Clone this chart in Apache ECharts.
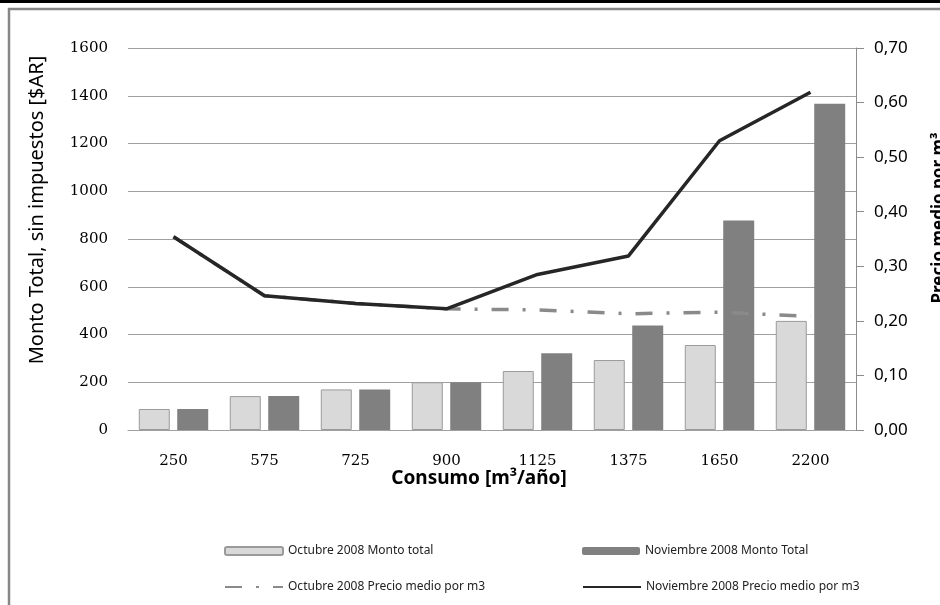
<!DOCTYPE html>
<html>
<head>
<meta charset="utf-8">
<script src="https://cdn.jsdelivr.net/npm/echarts@6/dist/echarts.min.js"></script>
<style>
html,body{margin:0;padding:0;background:#fff;}
#chart{width:940px;height:605px;}
</style>
</head>
<body>
<div id="chart"></div>
<script>
// ---- data ----
const categories = ['250', '575', '725', '900', '1125', '1375', '1650', '2200'];
const octMonto = [88, 142, 170, 200, 247, 293, 356, 457];
const novMonto = [88, 142, 170, 200, 321, 438, 877, 1367];
const octPrecio = [0.354, 0.246, 0.232, 0.222, 0.220, 0.213, 0.216, 0.208];
const novPrecio = [0.354, 0.246, 0.232, 0.222, 0.285, 0.319, 0.530, 0.619];
const seriesNames = [
  'Octubre 2008 Monto total',
  'Noviembre 2008 Monto Total',
  'Octubre 2008 Precio medio por m3',
  'Noviembre 2008 Precio medio por m3'
];
const leftTitle = 'Monto Total, sin impuestos [$AR]';
const rightTitle = 'Precio medio por m³';
const xTitle = 'Consumo [m³/año]';

const chart = echarts.init(document.getElementById('chart'), null, {renderer: 'canvas'});
const legendText = {fontFamily: 'Noto Sans', fontSize: 12, color: '#222'};
function mkLegend(name, left, top, hideSymbol) {
  const item = hideSymbol ? {name: name, itemStyle: {opacity: 0}} : {name: name};
  return {
    data: [item], left: left, top: top, padding: 0, itemWidth: 58, itemHeight: 8,
    itemGap: 6, textStyle: legendText, selectedMode: false
  };
}
const option = {
  animation: false,
  backgroundColor: '#fff',
  grid: {left: 128, right: 84, top: 48, bottom: 175, containLabel: false},
  legend: [
    mkLegend(seriesNames[0], 224, 545, false),
    mkLegend(seriesNames[1], 582, 545, false),
    mkLegend(seriesNames[2], 224, 581, true),
    mkLegend(seriesNames[3], 582, 581, true)
  ],
  xAxis: {
    type: 'category',
    data: categories,
    axisLine: {show: true, lineStyle: {color: '#a0a0a0', width: 1}},
    axisTick: {show: false},
    axisLabel: {fontFamily: 'DejaVu Serif', fontSize: 15, color: '#000', margin: 24}
  },
  yAxis: [
    {
      type: 'value', min: 0, max: 1600, interval: 200, position: 'left',
      axisLine: {show: false}, axisTick: {show: false},
      axisLabel: {
        fontFamily: 'DejaVu Serif', fontSize: 15, color: '#000', margin: 20,
        formatter: function (v) { return String(v); }
      },
      splitLine: {show: true, lineStyle: {color: '#a0a0a0', width: 1}}
    },
    {
      type: 'value', min: 0, max: 0.7, interval: 0.1, position: 'right',
      axisLine: {show: true, lineStyle: {color: '#8c8c8c', width: 1}},
      axisTick: {show: true, inside: false, length: 8, lineStyle: {color: '#8c8c8c'}},
      axisLabel: {
        fontFamily: 'Noto Sans', fontSize: 17, color: '#000', margin: 18,
        formatter: function (v) { return v.toFixed(2).replace('.', ','); }
      },
      splitLine: {show: false}
    }
  ],
  series: [
    {
      name: seriesNames[0], type: 'bar', data: octMonto, yAxisIndex: 0,
      barWidth: 31, barGap: '24%',
      itemStyle: {color: '#d9d9d9', borderColor: '#9a9a9a', borderWidth: 1}
    },
    {
      name: seriesNames[1], type: 'bar', data: novMonto, yAxisIndex: 0,
      barWidth: 31, barGap: '24%',
      itemStyle: {color: '#808080'}
    },
    {
      name: seriesNames[2], type: 'line', data: octPrecio, yAxisIndex: 1,
      symbol: 'none', z: 3,
      lineStyle: {color: '#8a8a8a', width: 3.5, type: [17, 14, 3, 14]},
      itemStyle: {color: '#8a8a8a'}
    },
    {
      name: seriesNames[3], type: 'line', data: novPrecio, yAxisIndex: 1,
      symbol: 'none', z: 4,
      lineStyle: {color: '#262626', width: 3.5},
      itemStyle: {color: '#262626'}
    }
  ],
  graphic: [
    {type: 'rect', shape: {x: 0, y: 0, width: 940, height: 3}, style: {fill: '#000'}, silent: true},
    {type: 'rect', shape: {x: 9, y: 9, width: 940, height: 610}, style: {fill: 'none', stroke: '#868686', lineWidth: 2.5}, silent: true},
    {
      type: 'text', x: 37, y: 210, rotation: Math.PI / 2,
      style: {text: leftTitle, fontFamily: 'Noto Sans', fontSize: 20, fill: '#000', textAlign: 'center', textVerticalAlign: 'middle'}
    },
    {
      type: 'text', x: 939, y: 218, rotation: Math.PI / 2,
      style: {text: rightTitle, fontFamily: 'Noto Sans', fontWeight: 'bold', fontSize: 17, fill: '#000', textAlign: 'center', textVerticalAlign: 'middle'}
    },
    {
      type: 'text', x: 479, y: 479,
      style: {text: xTitle, fontFamily: 'Noto Sans', fontWeight: 'bold', fontSize: 19, fill: '#000', textAlign: 'center', textVerticalAlign: 'middle'}
    }
  ]
};
chart.setOption(option);
</script>
</body>
</html>
